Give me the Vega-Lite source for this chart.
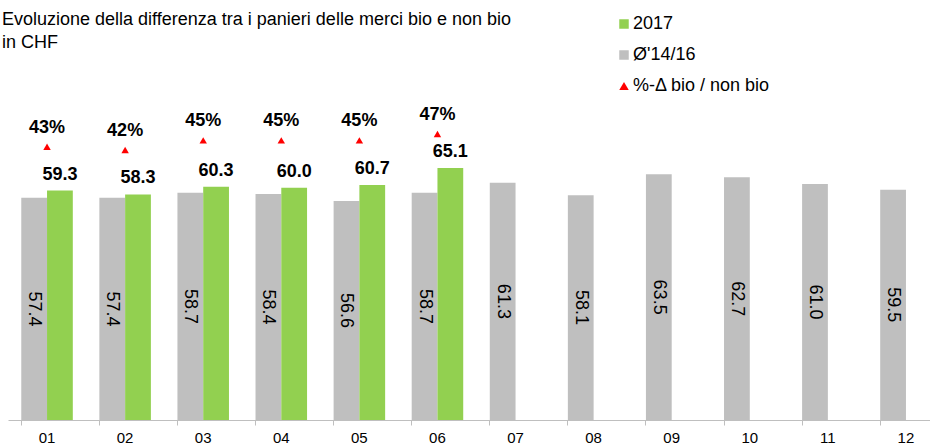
{
  "$schema": "https://vega.github.io/schema/vega-lite/v6.json",
  "width": 922,
  "height": 387,
  "autosize": {"type": "none"},
  "padding": {"left": 8, "top": 33, "right": 0, "bottom": 24},
  "title": {
    "text": ["Evoluzione della differenza tra i panieri delle merci bio e non bio", "in CHF"],
    "anchor": "start",
    "frame": "group",
    "fontSize": 18,
    "fontWeight": "normal",
    "font": "Liberation Sans",
    "color": "#000000",
    "lineHeight": 23,
    "offset": -37,
    "dx": -6
  },
  "datasets": {
    "bars": [
      {"month": "01", "series": "Ø'14/16", "value": 57.4},
      {"month": "02", "series": "Ø'14/16", "value": 57.4},
      {"month": "03", "series": "Ø'14/16", "value": 58.7},
      {"month": "04", "series": "Ø'14/16", "value": 58.4},
      {"month": "05", "series": "Ø'14/16", "value": 56.6},
      {"month": "06", "series": "Ø'14/16", "value": 58.7},
      {"month": "07", "series": "Ø'14/16", "value": 61.3},
      {"month": "08", "series": "Ø'14/16", "value": 58.1},
      {"month": "09", "series": "Ø'14/16", "value": 63.5},
      {"month": "10", "series": "Ø'14/16", "value": 62.7},
      {"month": "11", "series": "Ø'14/16", "value": 61.0},
      {"month": "12", "series": "Ø'14/16", "value": 59.5},
      {"month": "01", "series": "2017", "value": 59.3},
      {"month": "02", "series": "2017", "value": 58.3},
      {"month": "03", "series": "2017", "value": 60.3},
      {"month": "04", "series": "2017", "value": 60.0},
      {"month": "05", "series": "2017", "value": 60.7},
      {"month": "06", "series": "2017", "value": 65.1}
    ],
    "pct": [
      {"month": "01", "pct": 0.43},
      {"month": "02", "pct": 0.42},
      {"month": "03", "pct": 0.45},
      {"month": "04", "pct": 0.45},
      {"month": "05", "pct": 0.45},
      {"month": "06", "pct": 0.47}
    ]
  },
  "encoding": {
    "x": {
      "field": "month",
      "type": "nominal",
      "sort": null,
      "scale": {"range": [0, 937], "paddingInner": 0.34, "paddingOuter": 0.17},
      "axis": {
        "title": null,
        "labelAngle": 0,
        "bandPosition": 0,
        "labelFontSize": 15,
        "labelColor": "#000000",
        "labelFont": "Liberation Sans",
        "labelPadding": 5,
        "tickSize": 5,
        "tickColor": "#bfbfbf",
        "domainColor": "#bfbfbf",
        "grid": false
      }
    }
  },
  "layer": [
    {
      "data": {"name": "bars"},
      "mark": {"type": "bar"},
      "encoding": {
        "xOffset": {"field": "series", "type": "nominal", "scale": {"domain": ["Ø'14/16", "2017"], "paddingInner": 0, "paddingOuter": 0}},
        "y": {"field": "value", "type": "quantitative", "scale": {"domain": [0, 100], "nice": false}, "axis": null},
        "color": {
          "field": "series",
          "type": "nominal",
          "scale": {"domain": ["2017", "Ø'14/16", "%-Δ bio / non bio"], "range": ["#92d050", "#bfbfbf", "#ff0000"]},
          "legend": {"title": null, "orient": "none", "legendX": 607, "legendY": -18}
        }
      }
    },
    {
      "data": {"name": "bars"},
      "transform": [{"filter": "datum.series === \"Ø'14/16\""}],
      "mark": {"type": "text", "angle": 90, "align": "center", "baseline": "middle", "fontSize": 18, "font": "Liberation Sans", "color": "#000000"},
      "encoding": {
        "xOffset": {"field": "series", "type": "nominal", "scale": {"domain": ["Ø'14/16", "2017"], "paddingInner": 0, "paddingOuter": 0}},
        "y": {"field": "value", "type": "quantitative", "scale": {"domain": [0, 200], "nice": false}, "axis": null},
        "text": {"field": "value", "type": "quantitative", "format": ".1f"}
      }
    },
    {
      "data": {"name": "bars"},
      "transform": [{"filter": "datum.series === '2017'"}],
      "mark": {"type": "text", "align": "center", "baseline": "middle", "dy": -16, "fontSize": 18, "fontWeight": "bold", "font": "Liberation Sans", "color": "#000000"},
      "encoding": {
        "xOffset": {"field": "series", "type": "nominal", "scale": {"domain": ["Ø'14/16", "2017"], "paddingInner": 0, "paddingOuter": 0}},
        "y": {"field": "value", "type": "quantitative", "scale": {"domain": [0, 100], "nice": false}, "axis": null},
        "text": {"field": "value", "type": "quantitative", "format": ".1f"}
      }
    },
    {
      "data": {"name": "pct"},
      "mark": {"type": "point", "filled": true, "opacity": 1, "size": 55},
      "encoding": {
        "y": {"field": "pct", "type": "quantitative", "scale": {"domain": [-0.42375, 0.7856], "nice": false, "zero": false}, "axis": null},
        "color": {"datum": "%-Δ bio / non bio"},
        "shape": {
          "datum": "%-Δ bio / non bio",
          "scale": {"domain": ["2017", "Ø'14/16", "%-Δ bio / non bio"], "range": ["square", "square", "triangle-up"]},
          "legend": {"title": null, "orient": "none", "legendX": 607, "legendY": -18}
        }
      }
    },
    {
      "data": {"name": "pct"},
      "mark": {"type": "text", "align": "center", "baseline": "middle", "dy": -19, "fontSize": 18, "fontWeight": "bold", "font": "Liberation Sans", "color": "#000000"},
      "encoding": {
        "y": {"field": "pct", "type": "quantitative", "scale": {"domain": [-0.42375, 0.7856], "nice": false, "zero": false}, "axis": null},
        "text": {"field": "pct", "type": "quantitative", "format": ".0%"}
      }
    }
  ],
  "resolve": {"scale": {"y": "independent"}},
  "config": {
    "view": {"stroke": null},
    "font": "Liberation Sans",
    "legend": {
      "labelFontSize": 18,
      "labelFont": "Liberation Sans",
      "labelColor": "#000000",
      "symbolSize": 90,
      "symbolOpacity": 1,
      "symbolStrokeWidth": 0,
      "rowPadding": 13,
      "labelOffset": 0,
      "padding": 0
    }
  }
}
